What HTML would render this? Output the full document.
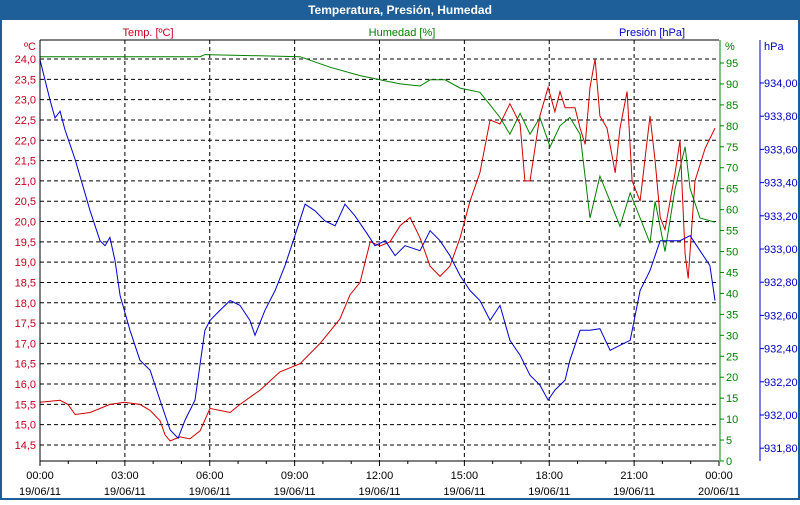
<!DOCTYPE html>
<html><head><meta charset="utf-8"><style>
body{margin:0;background:#fff}
svg text{font-family:"Liberation Sans",sans-serif;font-size:11px}
</style></head><body>
<svg id="c" width="800" height="500" xmlns="http://www.w3.org/2000/svg">
<rect x="0" y="0" width="800" height="500" fill="#fff" stroke="#1f5f99" stroke-width="4"/>
<rect x="0" y="0" width="800" height="20" fill="#1f5f99"/>
<text x="400" y="14" fill="#fff" text-anchor="middle" font-weight="bold" style="font-size:12px">Temperatura, Presión, Humedad</text>
<text x="148" y="36" fill="#c00020" text-anchor="middle">Temp. [ºC]</text>
<text x="402" y="36" fill="#008000" text-anchor="middle">Humedad [%]</text>
<text x="652" y="36" fill="#0000c0" text-anchor="middle">Presión [hPa]</text>
<text x="24" y="50" fill="#c00020">ºC</text>
<text x="725" y="50" fill="#008000">%</text>
<text x="764" y="50" fill="#0000c0">hPa</text>
<g id="grid"></g><g id="series"></g><g id="axes"></g>
</svg>
<script>
const tempHours=[0,.71,.99,1.24,1.77,2.47,3.00,3.53,3.89,4.24,4.42,4.60,4.95,5.30,5.66,6.01,6.72,7.07,7.78,8.48,9.19,9.90,10.60,10.96,11.31,11.67,12.02,12.37,12.73,13.08,13.43,13.79,14.14,14.49,14.85,15.20,15.55,15.91,16.26,16.61,16.97,17.14,17.32,17.67,17.96,18.20,18.38,18.56,18.91,19.09,19.27,19.44,19.62,19.79,20.04,20.33,20.50,20.75,20.93,21.21,21.56,21.74,21.92,22.09,22.45,22.62,22.80,22.91,23.15,23.51,23.86];
const tempValues=[15.55,15.6,15.5,15.25,15.3,15.5,15.55,15.5,15.35,15.1,14.75,14.6,14.7,14.65,14.85,15.4,15.3,15.5,15.85,16.3,16.5,17.0,17.6,18.2,18.5,19.5,19.4,19.5,19.9,20.1,19.6,18.9,18.65,18.9,19.6,20.5,21.2,22.5,22.4,22.9,22.4,21.0,21.0,22.6,23.3,22.7,23.2,22.8,22.8,22.3,21.9,23.3,24.0,22.6,22.3,21.2,22.3,23.2,21.0,20.5,22.6,21.5,20.1,19.8,21.2,22.0,19.2,18.6,21.0,21.8,22.3];
const humHours=[0,5.66,5.83,9.19,10.25,11.31,12.02,12.73,13.43,13.79,14.32,14.85,15.55,15.91,16.26,16.61,16.97,17.32,17.67,18.03,18.38,18.73,19.09,19.44,19.79,20.15,20.50,20.68,20.86,21.21,21.56,21.74,22.09,22.45,22.80,22.98,23.33,23.86];
const humValues=[96.5,96.5,97,96.5,94,92,91,90,89.5,91,91,89,88,85,82,78,83,78,82,75,80,82,78,58,68,62,56,60,64,58,52,62,50,65,75,65,58,57];
const presHours=[0,.35,.53,.71,.88,1.24,1.77,2.12,2.30,2.47,2.65,2.83,3.18,3.53,3.89,4.24,4.60,4.88,5.13,5.48,5.83,6.01,6.36,6.72,7.07,7.42,7.60,7.95,8.31,8.66,9.01,9.37,9.72,10.07,10.43,10.78,11.13,11.49,11.84,12.20,12.55,12.90,13.43,13.79,14.14,14.49,14.85,15.20,15.55,15.91,16.26,16.61,16.97,17.32,17.67,17.96,18.20,18.56,18.73,19.09,19.44,19.79,20.15,20.50,20.86,21.21,21.56,21.92,22.27,22.62,22.98,23.33,23.68,23.86];
const presValues=[934.14,933.90,933.79,933.83,933.72,933.54,933.23,933.05,933.02,933.07,932.93,932.72,932.51,932.33,932.27,932.09,931.91,931.86,931.97,932.09,932.51,932.57,932.63,932.69,932.66,932.57,932.48,932.63,932.75,932.90,933.08,933.27,933.23,933.17,933.14,933.27,933.20,933.11,933.02,933.05,932.96,933.02,932.99,933.11,933.05,932.96,932.84,932.75,932.69,932.57,932.66,932.45,932.36,932.24,932.18,932.09,932.15,932.21,932.33,932.51,932.51,932.52,932.39,932.42,932.45,932.75,932.87,933.05,933.05,933.05,933.08,932.99,932.90,932.69];
const tempTicks=["14,5","15,0","15,5","16,0","16,5","17,0","17,5","18,0","18,5","19,0","19,5","20,0","20,5","21,0","21,5","22,0","22,5","23,0","23,5","24,0"];
const humTicks=[0,5,10,15,20,25,30,35,40,45,50,55,60,65,70,75,80,85,90,95];
const presTicks=["931,80","932,00","932,20","932,40","932,60","932,80","933,00","933,20","933,40","933,60","933,80","934,00"];
const timeLabels=["00:00","03:00","06:00","09:00","12:00","15:00","18:00","21:00","00:00"];
const dateLabels=["19/06/11","19/06/11","19/06/11","19/06/11","19/06/11","19/06/11","19/06/11","19/06/11","20/06/11"];

const NS="http://www.w3.org/2000/svg";
const X0=40,X1=719,Y0=40,Y1=461;
const xS=h=>X0+h*(X1-X0)/24;
const yT=t=>59+(24-t)*40.63;
const yH=v=>461-v*(398/95);
const yP=p=>83+(934-p)*166;
function mk(tag,attrs,parent){const e=document.createElementNS(NS,tag);for(const k in attrs)e.setAttribute(k,attrs[k]);parent.appendChild(e);return e;}
const grid=document.getElementById('grid'),ser=document.getElementById('series'),ax=document.getElementById('axes');
tempTicks.forEach(s=>{const v=parseFloat(s.replace(',','.'));const y=yT(v);
 const l=mk('line',{x1:X0,x2:X1,y1:y,y2:y,stroke:'#000','stroke-dasharray':'4,3'},grid);
 
 
 const t=mk('text',{x:36,y:y+4,fill:'#c00020','text-anchor':'end'},ax);t.textContent=s;
 
 
});
for(let i=1;i<8;i++){const x=xS(i*3);
 const l=mk('line',{x1:x,x2:x,y1:Y0,y2:Y1,stroke:'#000','stroke-dasharray':'4,3'},grid);
 
 
}
timeLabels.forEach((s,i)=>{const x=xS(i*3);
 const t=mk('text',{x:x,y:479,fill:'#000','text-anchor':'middle'},ax);t.textContent=s;
 
 
 const d=mk('text',{x:x,y:495,fill:'#000','text-anchor':'middle'},ax);d.textContent=dateLabels[i];
 
 
});
for(let h=0;h<=24;h++){const x=xS(h);mk('line',{x1:x,x2:x,y1:Y1,y2:Y1+(h%3?3:5),stroke:'#000'},ax);}
mk('line',{x1:X0,x2:X1,y1:Y0,y2:Y0,stroke:'#000'},ax);
mk('line',{x1:X0,x2:X0,y1:Y0,y2:Y1,stroke:'#000'},ax);
mk('line',{x1:X0,x2:X1,y1:Y1,y2:Y1,stroke:'#000'},ax);
mk('line',{x1:720,x2:720,y1:Y0,y2:Y1,stroke:'#008000'},ax);
humTicks.forEach(v=>{const y=yH(v);mk('line',{x1:720,x2:724,y1:y,y2:y,stroke:'#008000'},ax);
 const t=mk('text',{x:726,y:y+4,fill:'#008000'},ax);t.textContent=v;
 
 
});
mk('line',{x1:760,x2:760,y1:Y0,y2:Y1,stroke:'#0000c0'},ax);
presTicks.forEach(s=>{const y=yP(parseFloat(s.replace(',','.')));mk('line',{x1:760,x2:764,y1:y,y2:y,stroke:'#0000c0'},ax);
 const t=mk('text',{x:764,y:y+4,fill:'#0000c0'},ax);t.textContent=s;
 
 
});
function line(hs,vs,ys,col,name){const n=Math.min(hs.length,vs.length);const pts=[];for(let i=0;i<n;i++)pts.push(xS(hs[i]).toFixed(1)+','+ys(vs[i]).toFixed(1));
 const p=mk('polyline',{points:pts.join(' '),fill:'none',stroke:col,'stroke-width':1},ser);
 
 
}
line(humHours,humValues,yH,'#008000','humidity-line');
line(tempHours,tempValues,yT,'#d00000','temperature-line');
line(presHours,presValues,yP,'#0000d0','pressure-line');
</script>
</body></html>
